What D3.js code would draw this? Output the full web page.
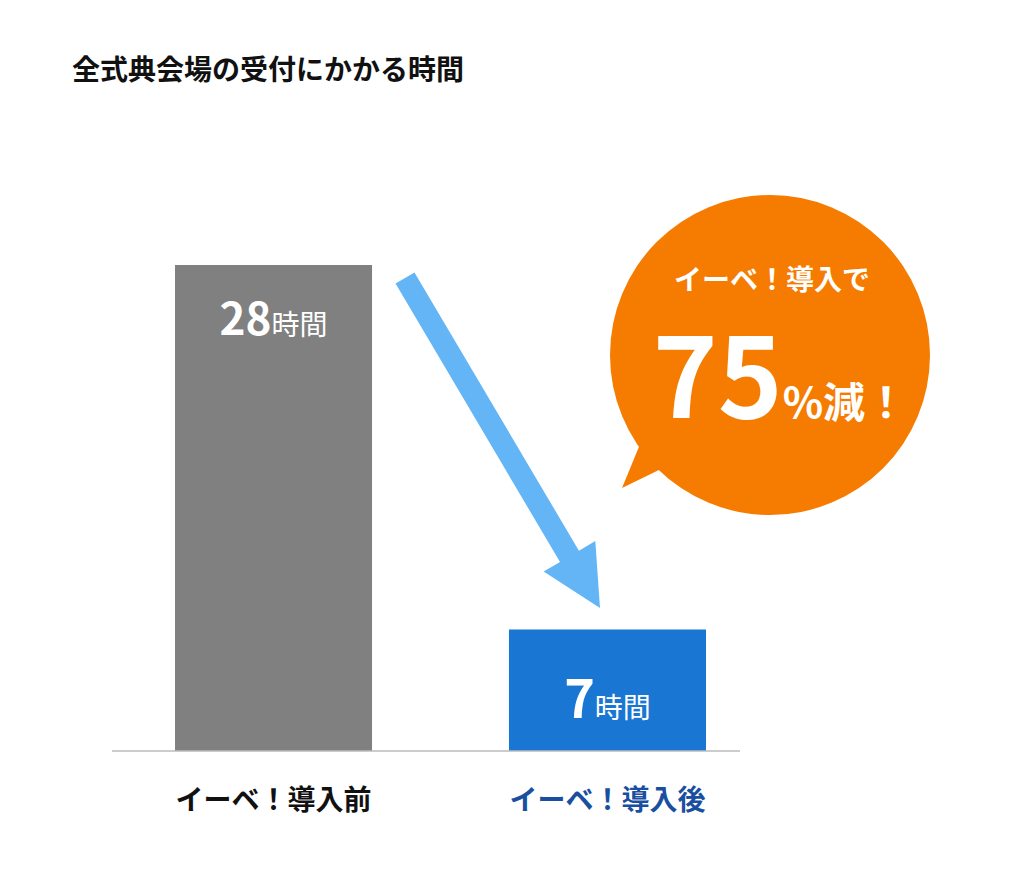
<!DOCTYPE html>
<html><head><meta charset="utf-8">
<script src="https://cdn.jsdelivr.net/npm/d3@7"></script>
<style>body{margin:0;background:#fff}text{font-family:"Noto Sans CJK JP","Noto Sans",sans-serif}</style>
</head><body>
<svg id="c" width="1024" height="873"></svg>
<script>
const categories = ['イーベ！導入前', 'イーベ！導入後'];
const hours = [28, 7];
const barColors = ['#808080', '#1976d2'];
const labelColors = ['#111', '#1a4fa0'];

const svg = d3.select('#c');

svg.append('text').attr('x', 72).attr('y', 80)
  .attr('font-size', 28).attr('font-weight', 700).attr('fill', '#111')
  .text('全式典会場の受付にかかる時間');

const x = d3.scaleBand().domain(categories).range([175, 706]).paddingInner(0.41).paddingOuter(0);
const y = d3.scaleLinear().domain([0, 28]).range([751, 265]);

svg.selectAll('rect.bar').data(hours).enter().append('rect')
  .attr('x', (d, i) => x(categories[i]))
  .attr('y', d => y(d))
  .attr('width', x.bandwidth())
  .attr('height', d => y(0) - y(d))
  .attr('fill', (d, i) => barColors[i]);

svg.append('line').attr('x1', 112).attr('x2', 740).attr('y1', 751).attr('y2', 751)
  .attr('stroke', '#bbb').attr('stroke-width', 1.5);

// value labels inside bars
hours.forEach((d, i) => {
  const t = svg.append('text')
    .attr('x', x(categories[i]) + x.bandwidth() / 2)
    .attr('y', y(d) + (i === 0 ? 70 : 88))
    .attr('text-anchor', 'middle').attr('fill', '#fff');
  t.append('tspan').attr('font-size', i === 0 ? 44 : 52).attr('font-weight', 700).text(d);
  t.append('tspan').attr('font-size', 28).text('時間');
});

// category labels
categories.forEach((c, i) => {
  svg.append('text').attr('x', x(c) + x.bandwidth() / 2).attr('y', 810)
    .attr('text-anchor', 'middle').attr('font-size', 28).attr('font-weight', 700)
    .attr('fill', labelColors[i]).text(c);
});

// arrow
const ax0 = 405, ay0 = 278, ax1 = 600, ay1 = 608;
const ang = Math.atan2(ay1 - ay0, ax1 - ax0);
const len = Math.hypot(ax1 - ax0, ay1 - ay0);
const sw = 11, hw = 30, hl = 60;
svg.append('path')
  .attr('transform', `translate(${ax0},${ay0}) rotate(${ang * 180 / Math.PI})`)
  .attr('d', `M0,${-sw}L${len - hl},${-sw}L${len - hl},${-hw}L${len},0L${len - hl},${hw}L${len - hl},${sw}L0,${sw}Z`)
  .attr('fill', '#64b5f6');

// speech bubble
svg.append('path').attr('d', 'M650,420 L622,488 L700,450 Z').attr('fill', '#f57c00');
svg.append('circle').attr('cx', 770).attr('cy', 355).attr('r', 160).attr('fill', '#f57c00');
svg.append('text').attr('x', 772).attr('y', 290).attr('text-anchor', 'middle')
  .attr('font-size', 28).attr('font-weight', 700).attr('fill', '#fff').text('イーベ！導入で');
const big = svg.append('text').attr('x', 780).attr('y', 418).attr('text-anchor', 'middle').attr('fill', '#fff').attr('font-weight', 700);
big.append('tspan').attr('font-size', 110).text('75');
big.append('tspan').attr('font-size', 42).text('%減！');
</script>
</body></html>
